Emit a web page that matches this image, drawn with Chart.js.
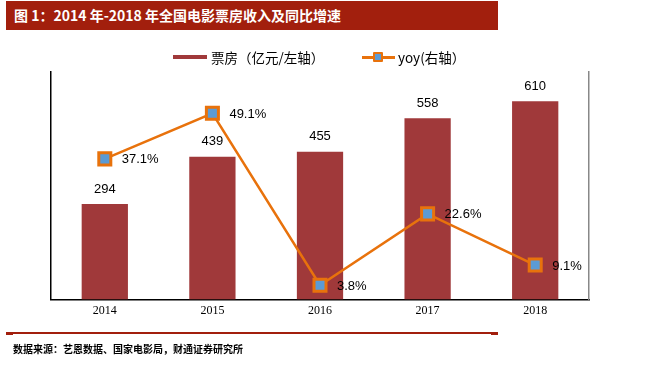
<!DOCTYPE html>
<html>
<head>
<meta charset="utf-8">
<script src="https://cdn.jsdelivr.net/npm/chart.js@4"></script>
<style>
  body { margin: 0; background: #fff; }
  #page { position: relative; width: 665px; height: 384px; overflow: hidden; font-family: "Liberation Sans", Arial, sans-serif; }
  #title { position: absolute; left: 6px; top: 1px; width: 492px; height: 29px; background: #A21F0D; color: #fff;
    font-family: "Noto Sans CJK SC", sans-serif; font-weight: bold; font-size: 14px; line-height: 29px; padding-left: 8px; box-sizing: border-box; }
  #chartBox { position: absolute; left: 0; top: 0; width: 665px; height: 384px; }
  .legend { position: absolute; top: 48px; font-size: 13.5px; color: #000; font-family: "Noto Sans CJK SC", "Liberation Sans", sans-serif; line-height: 18px; }
  .sw { position: absolute; }
  #rule { position: absolute; left: 6px; top: 332px; width: 492px; height: 1.5px; background: #A21F0D; }
  .cap { position: absolute; top: 332px; width: 7px; height: 2.5px; background: #A21F0D; }
  #source { position: absolute; left: 13px; top: 341px; font-family: "Noto Sans CJK SC", sans-serif; font-weight: bold; font-size: 10px; color: #000; }
</style>
</head>
<body>
<div id="page">
  <div id="chartBox"><canvas id="mainChart"></canvas></div>
  <div id="title">图 1：2014 年-2018 年全国电影票房收入及同比增速</div>
  <div class="sw" style="left:173px;top:55px;width:34px;height:4px;background:#A0393A;"></div>
  <div class="legend" style="left:211px;">票房（亿元/左轴）</div>
  <div class="sw" style="left:362px;top:56px;width:33px;height:2.5px;background:#E8720C;"></div>
  <div class="sw" style="left:373px;top:52px;width:6px;height:6px;background:#5B9BD5;border:2px solid #E8720C;border-radius:1px;"></div>
  <div class="legend" style="left:398px;">yoy(右轴）</div>
  <div id="rule"></div>
  <div class="cap" style="left:6px;"></div>
  <div class="cap" style="left:491px;"></div>
  <div id="source">数据来源：艺恩数据、国家电影局，财通证券研究所</div>
</div>
<script>
const years = ['2014', '2015', '2016', '2017', '2018'];
const boxOffice = [294, 439, 455, 558, 610];
const yoy = [37.1, 49.1, 3.8, 22.6, 9.1];

const barColor = '#A0393A';
const lineColor = '#E8720C';

// data labels: bar values above, yoy to the right of each marker
const labelPlugin = {
  id: 'labels',
  afterDatasetsDraw(chart) {
    const ctx = chart.ctx;
    ctx.save();
    ctx.fillStyle = '#000';
    ctx.font = '13px "Liberation Sans", Arial, sans-serif';
    chart.getDatasetMeta(0).data.forEach((bar, i) => {
      ctx.textAlign = 'center';
      ctx.textBaseline = 'middle';
      ctx.fillText(boxOffice[i], bar.x, bar.y - 15);
    });
    chart.getDatasetMeta(1).data.forEach((pt, i) => {
      ctx.textAlign = 'left';
      ctx.textBaseline = 'middle';
      ctx.fillText(yoy[i].toFixed(1) + '%', pt.x + 17, pt.y + 1);
    });
    ctx.restore();
  }
};

const ctx = document.getElementById('mainChart').getContext('2d');
new Chart(ctx, {
  data: {
    labels: years,
    datasets: [{
      type: 'bar',
      label: '票房（亿元/左轴）',
      data: boxOffice,
      backgroundColor: barColor,
      borderWidth: 0,
      barPercentage: 0.43,
      categoryPercentage: 1,
      yAxisID: 'y',
      order: 2
    }, {
      type: 'line',
      label: 'yoy(右轴）',
      data: yoy,
      borderColor: lineColor,
      borderWidth: 2.5,
      pointStyle: 'rect',
      pointRadius: 8.5,
      pointBorderWidth: 3,
      pointBackgroundColor: '#5B9BD5',
      pointBorderColor: lineColor,
      yAxisID: 'y1',
      order: 1
    }]
  },
  options: {
    responsive: true,
    maintainAspectRatio: false,
    animation: false,
    layout: { padding: { top: 72, left: 51, right: 76, bottom: 70 } },
    plugins: {
      legend: { display: false },
      tooltip: { enabled: false }
    },
    scales: {
      x: {
        grid: { display: false },
        border: { display: true, color: '#000', width: 1.5 },
        ticks: { color: '#000', font: { family: '"Liberation Serif", "Times New Roman", serif', size: 12 }, padding: -4 }
      },
      y: {
        position: 'left',
        min: 0,
        max: 700,
        grid: { display: false, drawTicks: false },
        border: { display: true, color: '#000', width: 1.5 },
        ticks: { display: false }
      },
      y1: {
        position: 'right',
        min: 0,
        max: 60,
        grid: { display: false, drawTicks: false },
        border: { display: true, color: '#888', width: 1.5 },
        ticks: { display: false }
      }
    }
  },
  plugins: [labelPlugin]
});
</script>
</body>
</html>
